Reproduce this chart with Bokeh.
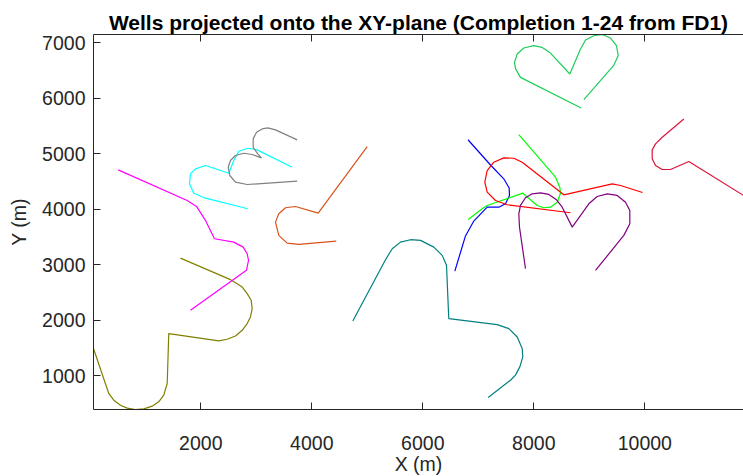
from bokeh.plotting import figure
from bokeh.models import Range1d, LinearAxis, FixedTicker
from bokeh.embed import file_html
from bokeh.resources import INLINE

title_text = "Wells projected onto the XY-plane (Completion 1-24 from FD1)"
x_label = "X (m)"
y_label = "Y (m)"
x_ticks = [2000, 4000, 6000, 8000, 10000]
y_ticks = [1000, 2000, 3000, 4000, 5000, 6000, 7000]

# well trajectories (X, Y in metres)
olive_x = [67, 342, 432, 553, 674, 823, 973, 1124, 1243, 1333, 1395, 1423, 2324, 2476, 2625, 2746, 2836, 2895, 2926, 2908, 2836, 2746, 2656, 2535, 1634]
olive_y = [1487, 677, 556, 466, 412, 388, 400, 448, 526, 646, 857, 1757, 1624, 1654, 1714, 1816, 1937, 2056, 2207, 2357, 2477, 2596, 2657, 2729, 3118]

magenta_x = [512, 1755, 1923, 2085, 2247, 2595, 2764, 2836, 2860, 2823, 1814]
magenta_y = [4709, 4157, 4049, 3797, 3467, 3406, 3316, 3197, 3077, 2897, 2177]

cyan_x = [2847, 2085, 1874, 1796, 1814, 1905, 2085, 2505, 2595, 2685, 2847, 3016, 3647]
cyan_y = [4007, 4198, 4288, 4457, 4637, 4727, 4787, 4648, 4877, 5044, 5098, 5069, 4756]

gray_x = [3737, 2836, 2625, 2523, 2494, 2535, 2625, 2775, 2926, 3094, 3027, 2944, 2944, 3004, 3106, 3207, 3346, 3737]
gray_y = [4504, 4445, 4486, 4607, 4756, 4877, 4967, 5008, 4985, 4925, 4997, 5116, 5267, 5386, 5447, 5465, 5429, 5249]

orange_x = [4998, 4115, 3706, 3526, 3405, 3346, 3405, 3557, 3766, 4440]
orange_y = [5129, 3928, 4048, 4025, 3917, 3766, 3527, 3388, 3365, 3424]

teal_x = [4739, 5328, 5449, 5598, 5779, 5959, 6199, 6350, 6427, 6468, 7341, 7550, 7701, 7791, 7802, 7748, 7670, 7580, 7178]
teal_y = [1984, 3089, 3287, 3406, 3449, 3437, 3316, 3167, 2987, 2027, 1919, 1847, 1696, 1487, 1336, 1156, 1008, 916, 605]

blue_x = [6814, 7228, 7459, 7556, 7562, 7490, 7369, 7160, 6914, 6769, 6577]
blue_y = [5251, 4787, 4547, 4382, 4247, 4097, 4036, 4036, 3779, 3517, 2884]

lime_x = [7730, 8391, 8468, 8481, 8422, 8301, 8180, 8061, 7802, 7160, 7070, 6818]
lime_y = [5345, 4576, 4396, 4288, 4126, 4036, 4025, 4067, 4288, 4067, 4007, 3815]

red_x = [8661, 7521, 7310, 7160, 7117, 7160, 7279, 7459, 7640, 7791, 8541, 9413, 9562, 9959]
red_y = [3935, 4079, 4157, 4306, 4486, 4697, 4846, 4925, 4918, 4846, 4259, 4457, 4427, 4301]

purple_x = [7850, 7742, 7730, 7760, 7850, 7971, 8121, 8270, 8409, 8512, 8692, 8991, 9142, 9323, 9503, 9652, 9730, 9730, 9622, 9112]
purple_y = [2927, 3676, 3917, 4067, 4205, 4277, 4295, 4265, 4169, 4036, 3676, 4097, 4229, 4277, 4247, 4126, 3977, 3737, 3527, 2897]

green_x = [8854, 7760, 7670, 7652, 7701, 7820, 8000, 8151, 8288, 8649, 8841, 8932, 9081, 9232, 9382, 9490, 9521, 9436, 8901]
green_y = [5825, 6376, 6533, 6646, 6797, 6905, 6947, 6916, 6826, 6437, 6888, 7050, 7127, 7149, 7085, 6947, 6767, 6587, 5975]

crimson_x = [10703, 10314, 10193, 10133, 10133, 10193, 10314, 10463, 10793, 11778]
crimson_y = [5627, 5296, 5177, 5069, 4907, 4787, 4715, 4715, 4859, 4247]

wells = [
    (olive_x, olive_y, "#808000"),
    (magenta_x, magenta_y, "#FF00FF"),
    (cyan_x, cyan_y, "#00FFFF"),
    (gray_x, gray_y, "#808080"),
    (orange_x, orange_y, "#D95319"),
    (teal_x, teal_y, "#008080"),
    (blue_x, blue_y, "#0000FF"),
    (lime_x, lime_y, "#00FF00"),
    (red_x, red_y, "#FF0000"),
    (purple_x, purple_y, "#800080"),
    (green_x, green_y, "#1ECC5A"),
    (crimson_x, crimson_y, "#DC143C"),
]

FONT = "Liberation Sans"
AX = "#262626"

p = figure(
    frame_width=650, frame_height=375,
    x_range=Range1d(67, 11778), y_range=Range1d(388, 7149),
    output_backend="svg", toolbar_location=None,
    min_border_left=93, min_border_right=0, min_border_top=34, min_border_bottom=67,
    x_axis_label=x_label, y_axis_label=y_label,
    title=title_text,
)
p.outline_line_color = None
p.background_fill_color = "white"
p.border_fill_color = "white"
p.grid.visible = False

p.title.text_font = FONT
p.title.text_font_size = "21px"
p.title.text_font_style = "bold"
p.title.align = "center"
p.title.text_color = "black"
p.title.standoff = 2

for ax, ticks in ((p.xaxis[0], x_ticks), (p.yaxis[0], y_ticks)):
    ax.ticker = FixedTicker(ticks=ticks)
    ax.major_tick_in = 7
    ax.major_tick_out = 0
    ax.minor_tick_line_color = None
    ax.axis_line_color = AX
    ax.major_tick_line_color = AX
    ax.major_label_text_color = AX
    ax.major_label_text_font = FONT
    ax.major_label_text_font_size = "19.5px"
    ax.axis_label_text_font = FONT
    ax.axis_label_text_font_size = "19.5px"
    ax.axis_label_text_font_style = "normal"
    ax.axis_label_text_color = AX

p.xaxis[0].major_label_standoff = 26
p.xaxis[0].axis_label_standoff = 0
p.yaxis[0].major_label_standoff = 8
p.yaxis[0].axis_label_standoff = 9

# box top edge with inward ticks and no labels
top = LinearAxis(ticker=FixedTicker(ticks=x_ticks))
top.major_tick_in = 7
top.major_tick_out = 0
top.minor_tick_line_color = None
top.axis_line_color = AX
top.major_tick_line_color = AX
top.major_label_text_font_size = "1px"
top.major_label_overrides = {t: "" for t in x_ticks}
top.major_label_standoff = 0
p.add_layout(top, "above")

for xs, ys, c in wells:
    p.line(xs, ys, line_color=c, line_width=1.2)

open("out.html", "w").write(file_html(p, INLINE))
